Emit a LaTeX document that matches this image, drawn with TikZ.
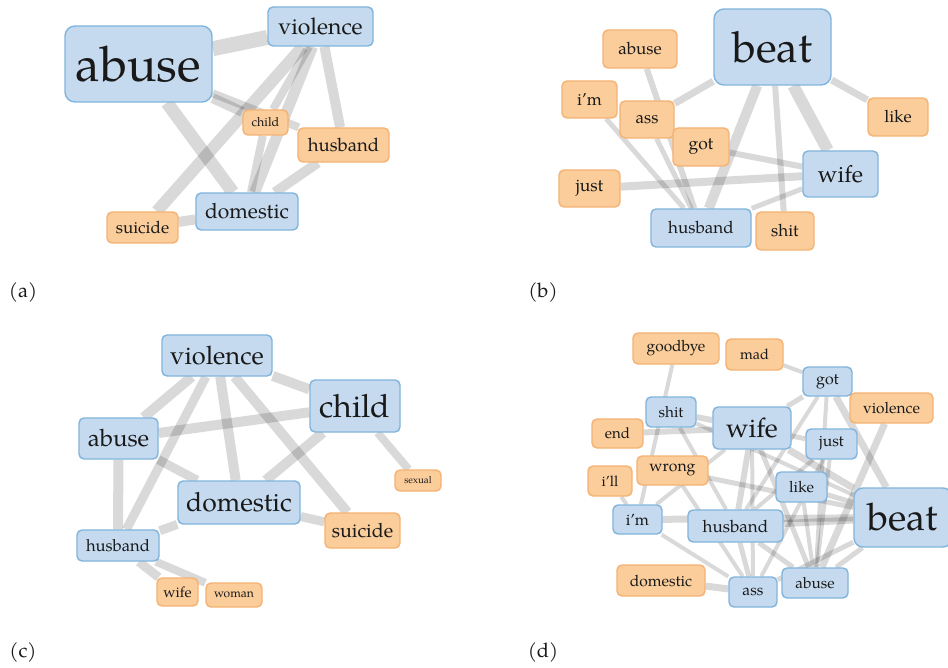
\documentclass[tikz,border=0pt]{standalone}
\usepackage{fontspec}
\setmainfont{texgyrepagella-regular.otf}
\usetikzlibrary{backgrounds}
\definecolor{bfill}{RGB}{197,218,239}
\definecolor{bline}{RGB}{128,180,220}
\definecolor{ofill}{RGB}{250,205,155}
\definecolor{oline}{RGB}{245,178,115}
\definecolor{txt}{RGB}{25,25,25}
\newcommand\fsz[1]{\fontsize{#1}{#1}\selectfont}
\tikzset{
  wb/.style={draw=bline, fill=bfill, rounded corners=5pt, line width=1.4pt, inner sep=0pt, text=txt},
  wo/.style={draw=oline, fill=ofill, rounded corners=5pt, line width=1.4pt, inner sep=0pt, text=txt},
  edge/.style={draw=black, opacity=0.15, line cap=butt},
  lab/.style={font=\fsz{20}, text=txt}
}
\begin{document}
\begin{tikzpicture}[x=1pt,y=-1pt]
\useasboundingbox (0,0) rectangle (948,668);
% ---------- (a)
\node[wb, minimum width=147pt, minimum height=76pt, rounded corners=10pt, font=\fsz{49}] (a1) at (138.5,64) {abuse};
\node[wb, minimum width=105pt, minimum height=39pt, font=\fsz{23}] (a2) at (320.5,26.5) {violence};
\node[wo, minimum width=45pt, minimum height=25pt, font=\fsz{12.5}] (a3) at (265.5,122.5) {child};
\node[wo, minimum width=91pt, minimum height=34pt, font=\fsz{18.5}] (a4) at (343.5,145) {husband};
\node[wb, minimum width=102pt, minimum height=37pt, font=\fsz{21}] (a5) at (247,211.5) {domestic};
\node[wo, minimum width=71pt, minimum height=31pt, font=\fsz{17}] (a6) at (142.5,227.5) {suicide};
% ---------- (b)
\node[wb, minimum width=117pt, minimum height=76pt, rounded corners=10pt, font=\fsz{43}] (b1) at (772.5,47) {beat};
\node[wo, minimum width=74pt, minimum height=38pt, font=\fsz{17}] (b2) at (640,49) {abuse};
\node[wo, minimum width=55pt, minimum height=37pt, font=\fsz{17}] (b3) at (589.5,99.5) {i'm};
\node[wo, minimum width=54pt, minimum height=37pt, font=\fsz{17}] (b4) at (647,119.5) {ass};
\node[wo, minimum width=56pt, minimum height=38pt, font=\fsz{17.5}] (b5) at (701,147) {got};
\node[wo, minimum width=60pt, minimum height=38pt, font=\fsz{17}] (b6) at (898,117) {like};
\node[wb, minimum width=75pt, minimum height=46pt, font=\fsz{23.5}] (b7) at (840.5,174) {wife};
\node[wo, minimum width=61pt, minimum height=37pt, font=\fsz{17.5}] (b8) at (589.5,188.5) {just};
\node[wb, minimum width=100pt, minimum height=38pt, font=\fsz{17}] (b9) at (701,228) {husband};
\node[wo, minimum width=58pt, minimum height=38pt, font=\fsz{17}] (b10) at (785,231) {shit};
% ---------- (c)
\node[wb, minimum width=110pt, minimum height=41pt, font=\fsz{25.5}] (c1) at (217,355.5) {violence};
\node[wb, minimum width=90pt, minimum height=52pt, font=\fsz{32}] (c2) at (355,406) {child};
\node[wb, minimum width=79pt, minimum height=41pt, font=\fsz{24}] (c3) at (118.5,438.5) {abuse};
\node[wb, minimum width=122pt, minimum height=43pt, font=\fsz{26.5}] (c4) at (239,502.5) {domestic};
\node[wo, minimum width=46pt, minimum height=21pt, font=\fsz{9.7}] (c5) at (418,480.5) {sexual};
\node[wo, minimum width=75pt, minimum height=35pt, font=\fsz{19.6}] (c6) at (362.5,530.5) {suicide};
\node[wb, minimum width=82pt, minimum height=31pt, font=\fsz{16.6}] (c7) at (118,545.5) {husband};
\node[wo, minimum width=41pt, minimum height=28pt, font=\fsz{14.7}] (c8) at (177.5,592) {wife};
\node[wo, minimum width=56pt, minimum height=24pt, font=\fsz{12}] (c9) at (234,595) {woman};
% ---------- (d)
\node[wo, minimum width=86pt, minimum height=31pt, font=\fsz{15.5}] (dgoodbye) at (676,348.5) {goodbye};
\node[wo, minimum width=57pt, minimum height=31pt, font=\fsz{14.5}] (dmad) at (754.5,354.5) {mad};
\node[wb, minimum width=49pt, minimum height=29pt, font=\fsz{16}] (dgot) at (827.5,381.5) {got};
\node[wo, minimum width=83pt, minimum height=30pt, font=\fsz{15.5}] (dviolence) at (891.5,408) {violence};
\node[wb, minimum width=50pt, minimum height=30pt, font=\fsz{15.3}] (dshit) at (671,412) {shit};
\node[wb, minimum width=78pt, minimum height=42pt, font=\fsz{27}] (dwife) at (752,428) {wife};
\node[wo, minimum width=51pt, minimum height=29pt, font=\fsz{15}] (dend) at (617.5,433.5) {end};
\node[wb, minimum width=51pt, minimum height=30pt, font=\fsz{15.7}] (djust) at (831.5,444) {just};
\node[wo, minimum width=71pt, minimum height=29pt, font=\fsz{15.8}] (dwrong) at (672.5,470.5) {wrong};
\node[wo, minimum width=44pt, minimum height=30pt, font=\fsz{14.5}] (dill) at (610,481) {i'll};
\node[wb, minimum width=51pt, minimum height=30pt, font=\fsz{15.5}] (dlike) at (801.5,487) {like};
\node[wb, minimum width=98pt, minimum height=59pt, rounded corners=9pt, font=\fsz{38}] (dbeat) at (903,517.5) {beat};
\node[wb, minimum width=49pt, minimum height=29pt, font=\fsz{16}] (dim) at (637.5,519.5) {i'm};
\node[wb, minimum width=95pt, minimum height=32pt, font=\fsz{17}] (dhusband) at (735.5,526) {husband};
\node[wo, minimum width=88pt, minimum height=31pt, font=\fsz{15.6}] (ddomestic) at (661,580.5) {domestic};
\node[wb, minimum width=48pt, minimum height=30pt, font=\fsz{15.6}] (dass) at (753,592) {ass};
\node[wb, minimum width=66pt, minimum height=30pt, font=\fsz{15.3}] (dabuse) at (815,583) {abuse};
% ---------- labels
\node[lab] (la) at (23,293) {(a)};
\node[lab] (lb) at (543,293) {(b)};
\node[lab] (lc) at (23,652) {(c)};
\node[lab] (ld) at (543,652) {(d)};
% ---------- edges
\begin{pgfonlayer}{background}
\fill[white] (0,0) rectangle (948,668);
% (a)
\draw[edge, line width=15pt] (a1) -- (a2);
\draw[edge, line width=10pt] (a1) -- (a3);
\draw[edge, line width=8pt] (a1) -- (a4);
\draw[edge, line width=13pt] (a1) -- (a5);
\draw[edge, line width=11pt] (a2) -- (a5);
\draw[edge, line width=8pt] (a2) -- (a3);
\draw[edge, line width=12pt] (a2) -- (a6);
\draw[edge, line width=10pt] (a2) -- (a4);
\draw[edge, line width=8pt] (a3) -- (a5);
\draw[edge, line width=10pt] (a5) -- (a4);
\draw[edge, line width=10pt] (a5) -- (a6);
% (b)
\draw[edge, line width=10pt] (b1) -- (b9);
\draw[edge, line width=12pt] (b1) -- (b7);
\draw[edge, line width=6pt] (b1) -- (b10);
\draw[edge, line width=7pt] (b1) -- (b6);
\draw[edge, line width=7pt] (b1) -- (b4);
\draw[edge, line width=6pt] (b2) -- (b9);
\draw[edge, line width=5pt] (b3) -- (b9);
\draw[edge, line width=5pt] (b4) -- (b9);
\draw[edge, line width=6pt] (b5) -- (b7);
\draw[edge, line width=8pt] (b8) -- (b7);
\draw[edge, line width=5pt] (b9) -- (b7);
% (c)
\draw[edge, line width=10pt] (c1) -- (c2);
\draw[edge, line width=10pt] (c1) -- (c3);
\draw[edge, line width=9pt] (c1) -- (c7);
\draw[edge, line width=10pt] (c1) -- (c4);
\draw[edge, line width=10pt] (c1) -- (c6);
\draw[edge, line width=10pt] (c3) -- (c2);
\draw[edge, line width=9pt] (c3) -- (c4);
\draw[edge, line width=10pt] (c3) -- (c7);
\draw[edge, line width=10pt] (c2) -- (c4);
\draw[edge, line width=8pt] (c2) -- (c5);
\draw[edge, line width=9pt] (c4) -- (c7);
\draw[edge, line width=9pt] (c4) -- (c6);
\draw[edge, line width=9pt] (c7) -- (c8);
\draw[edge, line width=8pt] (c7) -- (c9);
% (d)
\draw[edge, line width=4pt] (dgoodbye) -- (dim);
\draw[edge, line width=4pt] (dmad) -- (dgot);
\draw[edge, line width=5pt] (dgot) -- (dwife);
\draw[edge, line width=4pt] (dgot) -- (dhusband);
\draw[edge, line width=7pt] (dgot) -- (dbeat);
\draw[edge, line width=4pt] (dgot) -- (dabuse);
\draw[edge, line width=6pt] (dshit) -- (dwife);
\draw[edge, line width=4pt] (dshit) -- (dbeat);
\draw[edge, line width=4pt] (dshit) -- (dhusband);
\draw[edge, line width=6pt] (dend) -- (dwife);
\draw[edge, line width=7pt] (dwife) -- (dbeat);
\draw[edge, line width=5pt] (dwife) -- (djust);
\draw[edge, line width=6pt] (dwife) -- (dhusband);
\draw[edge, line width=4pt] (dwife) -- (dass);
\draw[edge, line width=5pt] (dwife) -- (dabuse);
\draw[edge, line width=4pt] (dwife) -- (dim);
\draw[edge, line width=4pt] (djust) -- (dhusband);
\draw[edge, line width=4pt] (djust) -- (dass);
\draw[edge, line width=4pt] (djust) -- (dabuse);
\draw[edge, line width=5pt] (dlike) -- (dbeat);
\draw[edge, line width=4pt] (dlike) -- (dabuse);
\draw[edge, line width=5pt] (dwrong) -- (dbeat);
\draw[edge, line width=4pt] (dwrong) -- (dass);
\draw[edge, line width=4pt] (dill) -- (dim);
\draw[edge, line width=7pt] (dim) -- (dbeat);
\draw[edge, line width=4pt] (dim) -- (dass);
\draw[edge, line width=7pt] (dhusband) -- (dbeat);
\draw[edge, line width=5pt] (dhusband) -- (dass);
\draw[edge, line width=5pt] (dhusband) -- (dabuse);
\draw[edge, line width=7pt] (ddomestic) -- (dass);
\draw[edge, line width=7pt] (dviolence) -- (dabuse);
\draw[edge, line width=5pt] (dbeat) -- (dabuse);
\draw[edge, line width=5pt] (dbeat) -- (dass);
\end{pgfonlayer}
\end{tikzpicture}
\end{document}
